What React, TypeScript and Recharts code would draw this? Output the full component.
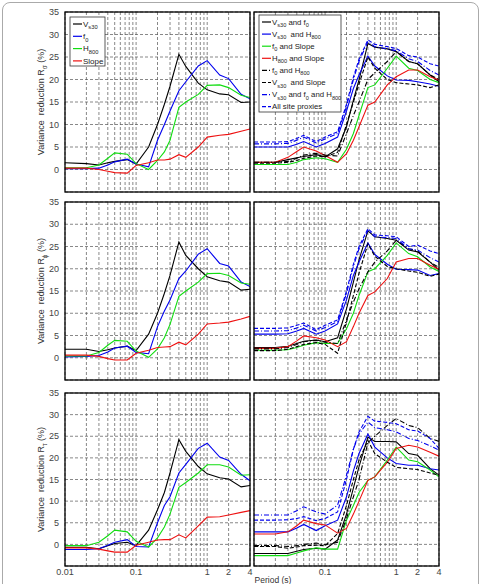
import React from 'react';
import { LineChart, Line, XAxis, YAxis, CartesianGrid } from 'recharts';

const periods = [0.01, 0.02, 0.03, 0.04, 0.05, 0.075, 0.1, 0.15, 0.2, 0.25, 0.3, 0.4, 0.5, 0.75, 1, 1.5, 2, 3, 4];

// single proxies
const vs30Sig = [1.5, 1.3, 1.0, 1.5, 1.8, 2.2, 1.2, 5.0, 10.0, 14.5, 18.5, 25.6, 22.9, 19.2, 17.7, 16.8, 16.6, 14.9, 15.0];
const f0Sig = [0.2, 0.2, 0.3, 1.0, 1.7, 2.3, 1.2, 0.6, 6.5, 10.0, 13.0, 17.5, 19.5, 23.0, 24.2, 21.0, 20.2, 16.7, 15.7];
const h800Sig = [0.4, 0.4, 1.0, 2.5, 3.7, 3.4, 1.3, 0.0, 2.0, 3.9, 6.5, 13.8, 15.0, 16.7, 18.7, 18.8, 18.2, 16.5, 16.0];
const slopeSig = [0.3, 0.3, 0.0, -0.4, -0.7, -0.8, 0.9, 1.5, 2.1, 2.1, 2.3, 3.3, 2.7, 5.0, 7.2, 7.6, 7.8, 8.5, 9.0];

const vs30Phi = [1.9, 1.9, 1.4, 1.8, 2.2, 2.6, 1.6, 5.3, 10.0, 14.5, 18.5, 26.0, 23.0, 20.0, 18.2, 17.3, 17.0, 15.2, 15.4];
const f0Phi = [0.2, 0.3, 0.5, 1.3, 2.2, 2.6, 1.2, 0.9, 7.0, 10.5, 13.0, 17.8, 19.5, 23.3, 24.5, 21.2, 20.6, 17.0, 16.0];
const h800Phi = [0.4, 0.4, 1.2, 2.8, 3.9, 3.7, 1.5, 0.1, 2.0, 4.5, 7.5, 13.8, 15.0, 17.0, 18.9, 19.0, 18.5, 16.8, 16.5];
const slopePhi = [0.6, 0.6, 0.3, -0.2, -0.5, -0.5, 1.0, 1.7, 2.3, 2.4, 2.5, 3.5, 2.9, 5.3, 7.6, 7.8, 8.0, 8.7, 9.3];

const vs30Tau = [-0.7, -0.7, -1.0, -0.3, 0.2, 0.5, -0.3, 3.3, 8.0, 12.0, 16.5, 24.2, 21.5, 18.0, 16.3, 15.4, 15.1, 13.3, 13.6];
const f0Tau = [-1.2, -1.2, -1.0, -0.2, 0.5, 1.1, -0.5, -0.6, 5.0, 9.0, 11.0, 16.5, 18.5, 22.2, 23.4, 20.2, 19.4, 16.2, 14.7];
const h800Tau = [-0.3, -0.3, 0.5, 2.0, 3.3, 2.9, 0.7, -0.6, 1.5, 4.0, 7.0, 13.2, 14.3, 16.5, 18.4, 18.4, 17.9, 16.0, 16.1];
const slopeTau = [-0.8, -0.8, -1.1, -1.5, -1.8, -1.8, -0.2, 0.5, 1.0, 1.1, 1.1, 2.2, 1.5, 4.3, 6.3, 6.4, 6.8, 7.4, 7.8];

// combinations
const vs30f0Sig = [1.6, 1.6, 2.2, 2.6, 2.9, 3.3, 2.8, 4.6, 9.5, 15.4, 19.9, 28.0, 27.2, 26.8, 26.2, 24.0, 23.5, 21.0, 19.5];
const vs30h800Sig = [5.0, 5.0, 5.0, 5.6, 6.2, 5.0, 5.8, 7.2, 13.0, 18.0, 21.0, 25.2, 23.0, 20.8, 19.9, 19.8, 19.5, 19.0, 18.5];
const f0slopeSig = [1.1, 1.1, 1.1, 1.6, 2.2, 2.6, 2.4, 1.6, 4.5, 8.0, 12.0, 18.2, 18.8, 22.5, 25.2, 22.5, 22.0, 20.0, 19.3];
const h800slopeSig = [1.6, 1.6, 2.7, 4.0, 5.0, 4.1, 3.1, 1.6, 3.5, 6.5, 9.5, 14.3, 15.0, 18.8, 20.6, 22.1, 22.1, 20.6, 19.9];
const f0h800Sig = [1.6, 1.6, 1.8, 2.5, 3.2, 3.6, 3.2, 3.0, 8.0, 12.0, 15.0, 20.0, 21.5, 24.0, 26.2, 24.0, 23.5, 21.0, 20.0];
const vs30slopeSig = [1.4, 1.4, 1.6, 2.0, 2.5, 3.0, 2.8, 3.8, 10.0, 15.0, 19.0, 25.0, 22.5, 20.0, 19.3, 19.0, 18.8, 18.2, 18.8];
const vs30f0h800Sig = [5.7, 5.7, 5.8, 6.5, 7.2, 5.9, 6.8, 8.0, 14.0, 20.0, 24.0, 28.4, 27.3, 26.8, 26.4, 24.6, 24.0, 22.0, 21.0];
const allSig = [6.1, 6.1, 6.2, 6.9, 7.6, 6.2, 7.2, 8.4, 14.5, 20.5, 24.5, 28.8, 27.8, 27.3, 26.9, 25.3, 25.0, 23.5, 23.0];

const vs30f0Phi = [2.3, 2.3, 2.6, 3.2, 3.7, 4.0, 3.6, 4.5, 11.0, 17.0, 22.0, 28.5, 27.2, 26.8, 26.4, 24.2, 23.8, 21.5, 19.7];
const vs30h800Phi = [5.3, 5.3, 5.4, 6.0, 6.6, 5.3, 6.0, 7.6, 13.0, 18.5, 21.5, 25.8, 23.2, 21.0, 19.9, 19.8, 19.7, 18.5, 18.9];
const f0slopePhi = [1.7, 1.7, 1.8, 2.3, 2.8, 3.4, 3.2, 3.2, 6.5, 10.0, 14.0, 19.3, 20.0, 23.0, 25.8, 23.4, 22.7, 20.4, 19.4];
const h800slopePhi = [2.1, 2.1, 2.5, 3.8, 4.9, 4.5, 4.0, 2.5, 3.6, 7.0, 10.0, 14.0, 14.8, 17.8, 21.5, 22.3, 22.3, 20.8, 19.9];
const f0h800Phi = [2.0, 2.0, 2.3, 3.0, 3.6, 3.9, 3.5, 3.2, 8.5, 12.5, 15.5, 19.3, 21.5, 24.0, 26.4, 24.5, 24.0, 21.5, 20.3];
const vs30slopePhi = [1.6, 1.6, 1.9, 2.5, 3.0, 3.4, 3.0, 1.0, 8.0, 14.0, 19.0, 25.6, 22.8, 20.5, 20.0, 19.5, 19.2, 18.3, 18.8];
const vs30f0h800Phi = [6.0, 6.0, 6.1, 6.7, 7.3, 6.0, 6.8, 8.1, 14.5, 20.5, 24.5, 28.6, 27.2, 27.0, 26.8, 24.5, 24.2, 22.5, 21.5];
const allPhi = [6.6, 6.6, 6.7, 7.3, 7.8, 6.3, 7.3, 8.5, 15.0, 21.0, 25.0, 29.0, 27.6, 27.4, 27.2, 25.0, 25.3, 24.0, 23.4];

const vs30f0Tau = [-2.1, -2.1, -2.1, -1.6, -1.2, -0.9, -1.1, 1.0, 7.0, 13.0, 18.0, 24.8, 23.8, 23.8, 23.7, 21.0, 20.6, 17.5, 16.0];
const vs30h800Tau = [2.9, 2.9, 2.9, 3.8, 4.6, 3.2, 4.3, 5.6, 11.0, 17.0, 21.0, 25.5, 22.5, 20.0, 18.7, 18.3, 18.3, 17.5, 17.2];
const f0slopeTau = [-2.6, -2.6, -2.6, -2.0, -1.5, -0.8, -1.1, -1.1, 5.6, 9.0, 12.0, 14.8, 15.6, 19.5, 22.5, 19.5, 19.1, 17.2, 15.6];
const h800slopeTau = [2.4, 2.4, 2.9, 4.3, 5.6, 4.8, 4.5, 2.6, 3.7, 7.0, 10.0, 14.8, 15.6, 19.0, 22.2, 22.9, 22.5, 21.3, 20.4];
const f0h800Tau = [-0.3, -0.3, -0.5, -0.3, 0.0, 0.3, -0.1, 0.5, 6.0, 11.0, 15.0, 23.5, 25.0, 27.5, 29.1, 27.5, 27.0, 24.5, 23.8];
const vs30slopeTau = [-0.5, -0.5, -0.9, -0.6, -0.3, -0.2, -0.3, 2.5, 9.0, 15.0, 19.5, 24.0, 21.0, 19.0, 17.8, 17.5, 17.3, 16.5, 16.0];
const vs30f0h800Tau = [6.8, 6.8, 6.8, 7.8, 8.7, 7.5, 7.0, 9.1, 16.0, 22.0, 25.5, 28.3, 27.0, 26.5, 26.0, 24.5, 24.0, 22.8, 21.8];
const allTau = [5.6, 5.6, 5.7, 6.0, 6.4, 5.5, 6.0, 7.5, 15.0, 22.0, 26.0, 29.6, 28.5, 28.2, 27.9, 26.5, 26.2, 24.5, 22.2];

const singleNames = ['V_{s30}', 'f_{0}', 'H_{800}', 'Slope'];
const comboNames = [
  'V_{s30} and f_{0}',
  'V_{s30}  and H_{800}',
  'f_{0} and Slope',
  'H_{800} and Slope',
  'f_{0} and H_{800}',
  'V_{s30}  and Slope',
  'V_{s30} and f_{0} and H_{800}',
  'All site proxies',
];
const yLabelSubs = ['σ', 'ϕ', 'τ'];

const gridPeriods = [
  0.01, 0.02, 0.03, 0.04, 0.05, 0.06, 0.07, 0.08, 0.09,
  0.1, 0.2, 0.3, 0.4, 0.5, 0.6, 0.7, 0.8, 0.9, 1, 2, 4,
];
const yTicks = [-5, 0, 5, 10, 15, 20, 25, 30, 35];

const singleColors = ['#000000', '#0000ee', '#11dd11', '#ee1111'];
const singleDashes = ['', '', '', ''];
const comboColors = ['#000000', '#0000ee', '#11dd11', '#ee1111', '#000000', '#000000', '#0000ee', '#0000ee'];
const comboDashes = ['', '', '', '', '5 2 1 2', '4 2', '5 2 1 2', '4 2'];

const FONT = '"Liberation Sans", Arial, Helvetica, sans-serif';

const toRows = (series: number[][]) =>
  periods.map((p, i) => {
    const row: Record<string, number> = { p };
    series.forEach((s, j) => {
      row[`s${j}`] = s[i];
    });
    return row;
  });

const leftRows = [
  toRows([vs30Sig, f0Sig, h800Sig, slopeSig]),
  toRows([vs30Phi, f0Phi, h800Phi, slopePhi]),
  toRows([vs30Tau, f0Tau, h800Tau, slopeTau]),
];
const rightRows = [
  toRows([vs30f0Sig, vs30h800Sig, f0slopeSig, h800slopeSig, f0h800Sig, vs30slopeSig, vs30f0h800Sig, allSig]),
  toRows([vs30f0Phi, vs30h800Phi, f0slopePhi, h800slopePhi, f0h800Phi, vs30slopePhi, vs30f0h800Phi, allPhi]),
  toRows([vs30f0Tau, vs30h800Tau, f0slopeTau, h800slopeTau, f0h800Tau, vs30slopeTau, vs30f0h800Tau, allTau]),
];

type Box = { x: number; y: number; w: number; h: number };

const rowBoxes = [
  { y: 12, h: 180 },
  { y: 202, h: 178 },
  { y: 393, h: 173 },
];
const leftX = 65;
const rightX = 254;
const plotW = 185;

// renders "V_{s30} and f_{0}" with subscripts
function Rich({ s, size }: { s: string; size: number }) {
  const parts = s.split(/(_\{[^}]*\})/).filter(Boolean);
  let down = false;
  return (
    <>
      {parts.map((part, i) => {
        if (part.startsWith('_{')) {
          down = true;
          return (
            <tspan key={i} dy={size * 0.3} fontSize={size * 0.72}>
              {part.slice(2, -1)}
            </tspan>
          );
        }
        const dy = down ? -size * 0.3 : 0;
        down = false;
        return (
          <tspan key={i} dy={dy} style={{ whiteSpace: 'pre' }}>
            {part}
          </tspan>
        );
      })}
    </>
  );
}

function Panel({
  box,
  rows,
  count,
  colors,
  dashes,
  showY,
  xLabels,
}: {
  box: Box;
  rows: Record<string, number>[];
  count: number;
  colors: string[];
  dashes: string[];
  showY: boolean;
  xLabels: number[] | null;
}) {
  const padL = showY ? 65 : 4;
  const padT = 4;
  const padR = 8;
  const xH = xLabels ? 16 : 4;
  const tickStyle = { fontSize: 9, fill: '#444', fontFamily: FONT };
  return (
    <div style={{ position: 'absolute', left: box.x - padL, top: box.y - padT }}>
      <LineChart
        width={padL + box.w + padR}
        height={padT + box.h + xH}
        data={rows}
        margin={{ top: padT, right: padR, bottom: 0, left: 0 }}
      >
        <CartesianGrid stroke="#555" strokeDasharray="3 2" strokeWidth={0.7} />
        <XAxis
          dataKey="p"
          type="number"
          scale="log"
          domain={[0.01, 4]}
          allowDataOverflow
          ticks={gridPeriods}
          interval={0}
          height={xH}
          axisLine={false}
          tickLine={false}
          tickSize={0}
          tickMargin={3}
          tick={tickStyle}
          tickFormatter={(v: number) => (xLabels && xLabels.includes(v) ? String(v) : '')}
        />
        <YAxis
          type="number"
          domain={[-5, 35]}
          ticks={yTicks}
          interval={0}
          width={padL}
          axisLine={false}
          tickLine={false}
          tickSize={0}
          tickMargin={6}
          tick={tickStyle}
          tickFormatter={(v: number) => (!showY || v === -5 ? '' : String(v))}
        />
        {Array.from({ length: count }, (_, i) => (
          <Line
            key={i}
            dataKey={`s${i}`}
            type="linear"
            stroke={colors[i]}
            strokeDasharray={dashes[i] || undefined}
            strokeWidth={1.1}
            dot={false}
            isAnimationActive={false}
          />
        ))}
      </LineChart>
    </div>
  );
}

function LegendBox({
  x,
  y,
  w,
  h,
  first,
  step,
  names,
  colors,
  dashes,
  size,
}: {
  x: number;
  y: number;
  w: number;
  h: number;
  first: number;
  step: number;
  names: string[];
  colors: string[];
  dashes: string[];
  size: number;
}) {
  return (
    <g>
      <rect x={x} y={y} width={w} height={h} fill="#fff" stroke="#333" strokeWidth={0.8} />
      {names.map((n, i) => {
        const cy = y + first + i * step;
        return (
          <g key={n}>
            <line
              x1={x + 3}
              x2={x + 12}
              y1={cy}
              y2={cy}
              stroke={colors[i]}
              strokeWidth={1.2}
              strokeDasharray={dashes[i] || undefined}
            />
            <text x={x + 13} y={cy + size * 0.35} fontSize={size} fill="#222" fontFamily={FONT}>
              <Rich s={n} size={size} />
            </text>
          </g>
        );
      })}
    </g>
  );
}

export default function App() {
  return (
    <div
      style={{
        position: 'absolute',
        left: 0,
        top: 0,
        width: 481,
        height: 584,
        overflow: 'hidden',
        background: '#fff',
        fontFamily: FONT,
      }}
    >
      <div
        style={{
          position: 'absolute',
          left: 2,
          top: 2,
          width: 475,
          height: 600,
          border: '1px solid #aaa',
          borderRadius: 8,
        }}
      />
      {rowBoxes.map((r, i) => (
        <React.Fragment key={i}>
          <Panel
            box={{ x: leftX, y: r.y, w: plotW, h: r.h }}
            rows={leftRows[i]}
            count={4}
            colors={singleColors}
            dashes={singleDashes}
            showY
            xLabels={i === 2 ? [0.01, 0.1, 1, 2, 4] : null}
          />
          <Panel
            box={{ x: rightX, y: r.y, w: plotW, h: r.h }}
            rows={rightRows[i]}
            count={8}
            colors={comboColors}
            dashes={comboDashes}
            showY={false}
            xLabels={i === 2 ? [0.1, 1, 2, 4] : null}
          />
        </React.Fragment>
      ))}
      <svg
        width={481}
        height={584}
        style={{ position: 'absolute', left: 0, top: 0, pointerEvents: 'none' }}
      >
        {rowBoxes.map((r, i) => (
          <g key={i}>
            <rect x={leftX} y={r.y} width={plotW} height={r.h} fill="none" stroke="#000" strokeWidth={1.3} />
            <rect x={rightX} y={r.y} width={plotW} height={r.h} fill="none" stroke="#000" strokeWidth={1.3} />
            <text
              transform={`translate(44, ${r.y + r.h / 2}) rotate(-90)`}
              textAnchor="middle"
              fontSize={9}
              fill="#333"
              fontFamily={FONT}
            >
              <Rich s={`Variance  reduction R_{${yLabelSubs[i]}} (%)`} size={9} />
            </text>
          </g>
        ))}
        <LegendBox
          x={70}
          y={17}
          w={35}
          h={49}
          first={7}
          step={12.3}
          names={singleNames}
          colors={singleColors}
          dashes={singleDashes}
          size={8}
        />
        <LegendBox
          x={259}
          y={15}
          w={82}
          h={97}
          first={7}
          step={12.1}
          names={comboNames}
          colors={comboColors}
          dashes={comboDashes}
          size={7.8}
        />
        <text x={273} y={583} textAnchor="middle" fontSize={8.5} fill="#333" fontFamily={FONT}>
          Period (s)
        </text>
      </svg>
    </div>
  );
}
